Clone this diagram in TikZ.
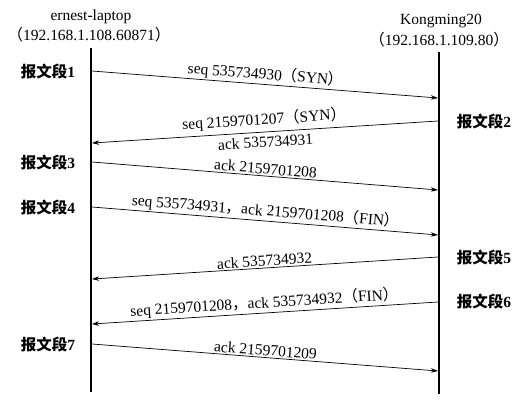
\documentclass[tikz,border=0pt]{standalone}
\usepackage{fontspec}
\setmainfont{Liberation Serif}
\newfontfamily\cjk{Noto Sans CJK SC}
\usetikzlibrary{arrows.meta}
\def\fs{\fontsize{15.5}{18}\selectfont}
\tikzset{
  lifeline/.style={line width=2.6pt},
  msg/.style={line width=0.7pt,-{Stealth[length=7pt,width=4.5pt]}},
  msglabel/.style={font=\fs,inner sep=1.5pt},
  seglabel/.style={font=\fs\bfseries},
  hostlabel/.style={font=\fs,inner sep=0pt},
}
\begin{document}
\begin{tikzpicture}[x=1pt,y=-1pt]
\useasboundingbox (0,0) rectangle (531,402);
\def\L{91}
\def\Rx{439}
% hosts
\node[hostlabel] (host1) at (\L,17) {ernest-laptop};
\node[hostlabel] (addr1) at (\L-2,35) {{\cjk （}192.168.1.108.60871{\cjk ）}};
\node[hostlabel] (host2) at (\Rx+2,21) {Kongming20};
\node[hostlabel] (addr2) at (\Rx,40) {{\cjk （}192.168.1.109.80{\cjk ）}};

% lifelines
\coordinate (lt) at (\L,48);
\coordinate (lb) at (\L,392);
\coordinate (rt) at (\Rx,52);
\coordinate (rb) at (\Rx,394);
\draw[lifeline] (lt) -- (lb);
\draw[lifeline] (rt) -- (rb);

% message ends
\coordinate (m1l) at (\L+1,71);
\coordinate (m1r) at (\Rx-1,98);
\coordinate (m2r) at (\Rx-1,121);
\coordinate (m2l) at (\L+1,143);
\coordinate (m3l) at (\L+1,162);
\coordinate (m3r) at (\Rx-1,190);
\coordinate (m4l) at (\L+1,207);
\coordinate (m4r) at (\Rx-1,235);
\coordinate (m5r) at (\Rx-1,257);
\coordinate (m5l) at (\L+1,279);
\coordinate (m6r) at (\Rx-1,302);
\coordinate (m6l) at (\L+1,324);
\coordinate (m7l) at (\L+1,344);
\coordinate (m7r) at (\Rx-1,371);

% messages
\draw[msg] (m1l) -- node[msglabel,above,sloped] {seq 535734930{\cjk （}SYN{\cjk ）}} (m1r);
\draw[msg] (m2r) -- node[msglabel,above=2.5pt,sloped] {seq 2159701207{\cjk （}SYN{\cjk ）}}
                    node[msglabel,below=2.5pt,sloped] {ack 535734931} (m2l);
\draw[msg] (m3l) -- node[msglabel,above,sloped] {ack 2159701208} (m3r);
\draw[msg] (m4l) -- node[msglabel,above,sloped] {seq 535734931{\cjk ，}ack 2159701208{\cjk （}FIN{\cjk ）}} (m4r);
\draw[msg] (m5r) -- node[msglabel,above,sloped] {ack 535734932} (m5l);
\draw[msg] (m6r) -- node[msglabel,above,sloped] {seq 2159701208{\cjk ，}ack 535734932{\cjk （}FIN{\cjk ）}} (m6l);
\draw[msg] (m7l) -- node[msglabel,above,sloped] {ack 2159701209} (m7r);

% segment numbers
\node[seglabel] (seg1) at (48,72) {{\cjk 报文段}1};
\node[seglabel] (seg2) at (484,122) {{\cjk 报文段}2};
\node[seglabel] (seg3) at (48,163) {{\cjk 报文段}3};
\node[seglabel] (seg4) at (48,208) {{\cjk 报文段}4};
\node[seglabel] (seg5) at (484,258) {{\cjk 报文段}5};
\node[seglabel] (seg6) at (484,302) {{\cjk 报文段}6};
\node[seglabel] (seg7) at (48,345) {{\cjk 报文段}7};
\end{tikzpicture}
\end{document}
